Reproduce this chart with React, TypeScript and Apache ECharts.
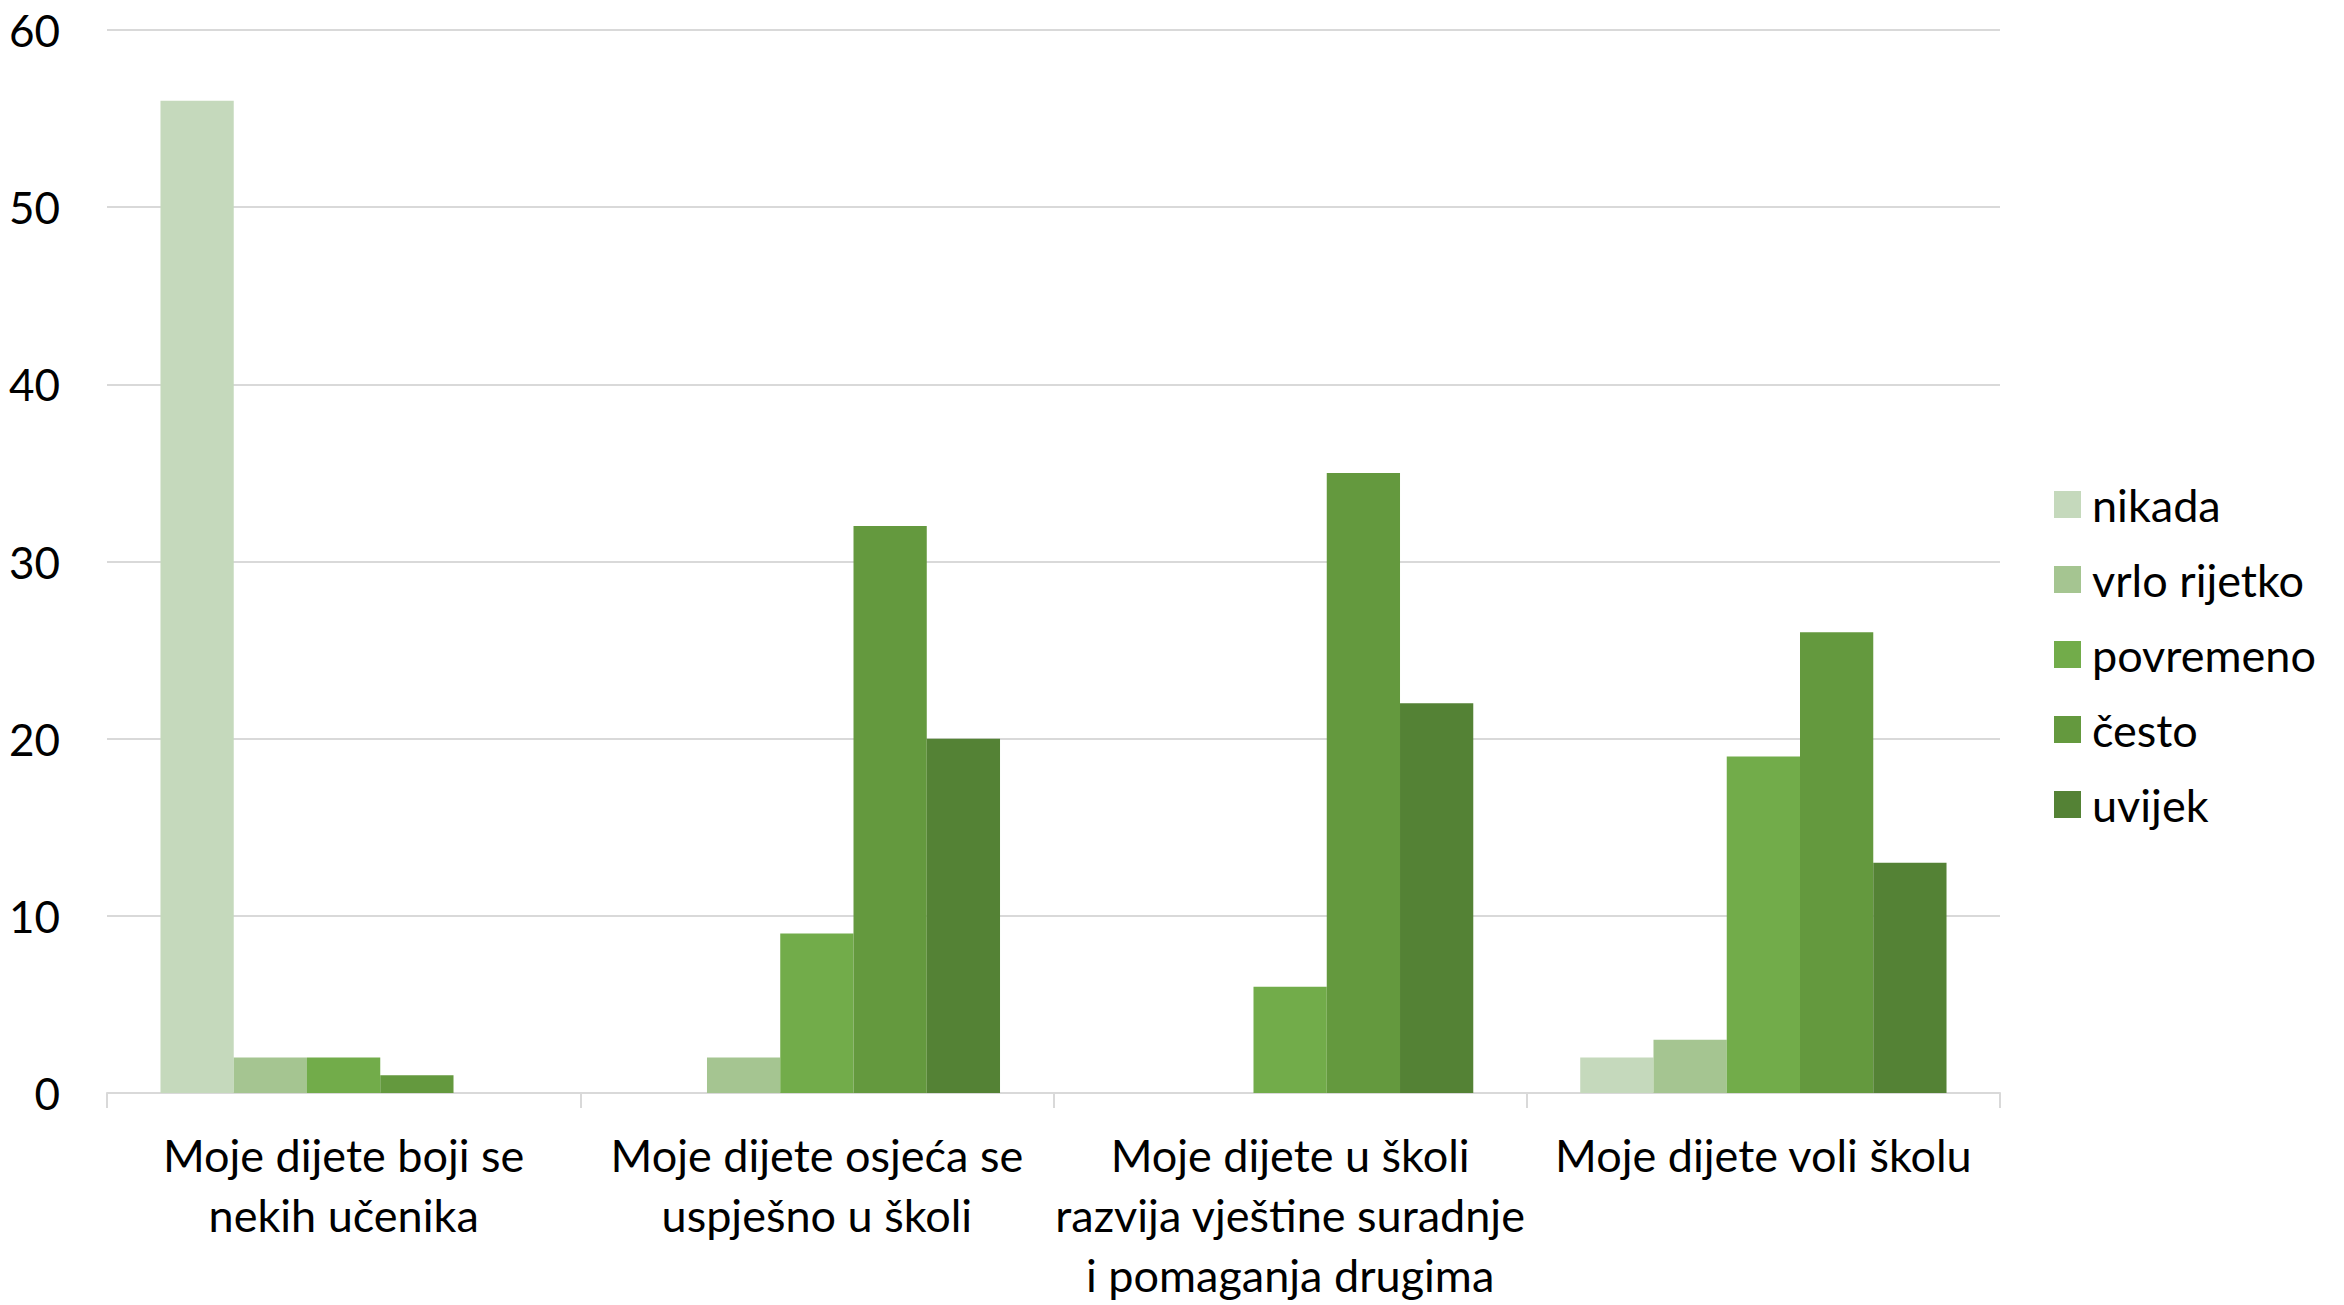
import React, { useEffect, useRef } from "react";
import * as echarts from "echarts";

const categories = [
  "Moje dijete boji se\nnekih učenika",
  "Moje dijete osjeća se\nuspješno u školi",
  "Moje dijete u školi\nrazvija vještine suradnje\ni pomaganja drugima",
  "Moje dijete voli školu",
];
const seriesNames = ["nikada", "vrlo rijetko", "povremeno", "često", "uvijek"];
const nikada = [56, 0, 0, 2];
const vrloRijetko = [2, 2, 0, 3];
const povremeno = [2, 9, 6, 19];
const cesto = [1, 32, 35, 26];
const uvijek = [0, 20, 22, 13];
const colors = ["#C5D9BC", "#A5C591", "#72AC4A", "#64993E", "#548235"];
const yTicks = { min: 0, max: 60, interval: 10 };

export default function App() {
  const ref = useRef<HTMLDivElement>(null);
  useEffect(() => {
    if (!ref.current) return;
    const chart = echarts.init(ref.current, null, { renderer: "svg" });
    const values = [nikada, vrloRijetko, povremeno, cesto, uvijek];
    const font = "Lato, 'Open Sans', sans-serif";
    chart.setOption({
      animation: false,
      backgroundColor: "#ffffff",
      textStyle: { fontFamily: font },
      grid: { left: 107, right: 344, top: 30, bottom: 205, containLabel: false },
      legend: {
        orient: "vertical",
        left: 2049,
        top: 477,
        itemWidth: 27,
        itemHeight: 27,
        itemGap: 30,
        icon: "rect",
        textStyle: { fontSize: 45, color: "#000", fontFamily: font, padding: [0, 0, 0, 6] },
        data: seriesNames,
      },
      xAxis: {
        type: "category",
        data: categories,
        axisLine: { lineStyle: { color: "#d9d9d9", width: 2 } },
        axisTick: { show: true, length: 15, lineStyle: { color: "#d9d9d9", width: 2 } },
        axisLabel: {
          fontSize: 45,
          color: "#000",
          fontFamily: font,
          lineHeight: 60,
          margin: 32,
          interval: 0,
        },
        splitLine: { show: false },
      },
      yAxis: {
        type: "value",
        min: yTicks.min,
        max: yTicks.max,
        interval: yTicks.interval,
        axisLine: { show: false },
        axisTick: { show: false },
        axisLabel: { fontSize: 44, color: "#000", fontFamily: font, margin: 47 },
        splitLine: { lineStyle: { color: "#d9d9d9", width: 2 } },
      },
      series: seriesNames.map((name, i) => ({
        name,
        type: "bar",
        data: values[i],
        barGap: "0%",
        barCategoryGap: "22.6%",
        itemStyle: { color: colors[i] },
      })),
    });
    return () => chart.dispose();
  }, []);
  return (
    <div
      ref={ref}
      style={{ position: "absolute", left: 0, top: 0, width: 2344, height: 1305, background: "#fff" }}
    />
  );
}
